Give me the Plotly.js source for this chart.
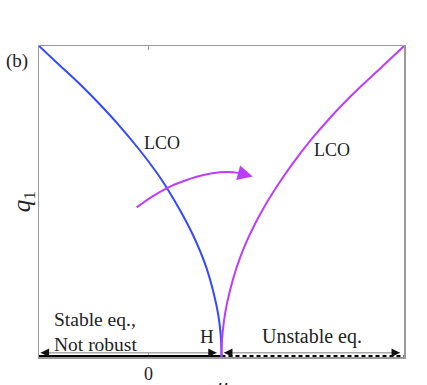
<!DOCTYPE html>
<html>
<head>
<meta charset="utf-8">
<script src="https://cdn.plot.ly/plotly-3.0.1.min.js"></script>
<style>
  html, body { margin: 0; padding: 0; background: #fff; }
  #chart { width: 427px; height: 385px; }
</style>
</head>
<body>
<div id="chart"></div>
<script>
// Bifurcation sketch: LCO branches around the Hopf point H (mu = 1)

// stable LCO branch (blue)
const blueMu = [-1.5, -1.226, -0.952, -0.678, -0.404, -0.13, 0.121, 0.226, 0.432, 0.614, 0.774, 0.888, 0.956, 0.989, 0.998, 1.0];
const blueQ  = [1.0, 0.94, 0.88, 0.815, 0.745, 0.668, 0.59, 0.553, 0.472, 0.39, 0.3, 0.21, 0.135, 0.072, 0.03, 0.0];

// unstable LCO branch (magenta)
const magMu = [1.0, 1.002, 1.016, 1.052, 1.112, 1.203, 1.318, 1.455, 1.637, 1.751, 1.962, 2.236, 2.51, 2.829, 3.148, 3.5];
const magQ  = [0.0, 0.03, 0.08, 0.144, 0.21, 0.285, 0.357, 0.426, 0.503, 0.546, 0.618, 0.701, 0.775, 0.852, 0.922, 1.0];

// curved arrow (magenta)
const arcMu = [-0.162, 0.066, 0.295, 0.523, 0.751, 0.979, 1.162, 1.299];
const arcQ  = [0.481, 0.518, 0.548, 0.569, 0.585, 0.594, 0.594, 0.588];
const arcTip = [1.427, 0.58];

// equilibrium line along q1 = 0
const eqStableMu   = [-1.5, 1.0];
const eqUnstableMu = [1.0, 3.5];

// range arrows above the axis
const arrowQ = 0.0138;
const leftArrowMu  = [-1.477, 0.934];
const rightArrowMu = [1.034, 3.445];

const xTicks = [0];
const xTickText = ['0'];

const blue = '#3349ff';
const magenta = '#bd3dff';
const serif = '"Liberation Serif", "DejaVu Serif", serif';
const ink = '#222';

const traces = [
  {x: eqStableMu, y: [0, 0], mode: 'lines', line: {color: '#000', width: 4}},
  {x: eqUnstableMu, y: [0, 0], mode: 'lines', line: {color: '#000', width: 4, dash: '4px,3px'}},
  {x: leftArrowMu, y: [arrowQ, arrowQ], mode: 'lines', line: {color: '#aaa', width: 1.5}},
  {x: rightArrowMu, y: [arrowQ, arrowQ], mode: 'lines', line: {color: '#aaa', width: 1.5}},
  {x: blueMu, y: blueQ, mode: 'lines', line: {color: blue, width: 2, shape: 'spline', smoothing: 1}},
  {x: magMu, y: magQ, mode: 'lines', line: {color: magenta, width: 2, shape: 'spline', smoothing: 1}},
  {x: arcMu, y: arcQ, mode: 'lines', line: {color: magenta, width: 2, shape: 'spline', smoothing: 1}}
];

function head(x, y, dx){
  return {x: x, y: y, xref: 'x', yref: 'y', ax: dx, ay: 0, text: '',
          showarrow: true, arrowhead: 2, arrowsize: 1.3, arrowwidth: 1.3, arrowcolor: '#111', standoff: 0};
}

function label(x, y, text, size){
  return {x: x, y: y, xref: 'x', yref: 'y', text: text, showarrow: false,
          font: {family: serif, size: size, color: ink}};
}

const annotations = [
  {x: (17 - 39) / 365, y: (357 - 61) / 311, xref: 'paper', yref: 'paper', text: '(b)', showarrow: false,
   xanchor: 'center', yanchor: 'middle', font: {family: serif, size: 19, color: ink}},
  // x-axis title sits partly below the bottom edge, as in the original figure
  {x: 0.5, y: (357 - 385) / 311, xref: 'paper', yref: 'paper', text: '<i>μ</i>', showarrow: false,
   xanchor: 'center', yanchor: 'middle', font: {family: serif, size: 22, color: ink}},
  label(0.185, 0.688, 'LCO', 18),
  label(2.514, 0.666, 'LCO', 18),
  label(0.801, 0.0675, 'H', 19),
  Object.assign(label(-1.322, 0.08, 'Stable eq.,<br>Not robust', 19.5), {xanchor: 'left', align: 'left'}),
  label(2.24, 0.0675, 'Unstable eq.', 20),
  {x: arcTip[0], y: arcTip[1], xref: 'x', yref: 'y', axref: 'x', ayref: 'y',
   ax: arcMu[arcMu.length - 1], ay: arcQ[arcQ.length - 1], text: '',
   showarrow: true, arrowhead: 2, arrowsize: 1.5, arrowwidth: 2, arrowcolor: magenta, standoff: 0},
  head(leftArrowMu[0], arrowQ, 9),
  head(leftArrowMu[1], arrowQ, -9),
  head(rightArrowMu[0], arrowQ, 9),
  head(rightArrowMu[1], arrowQ, -9)
];

const layout = {
  width: 427,
  height: 385,
  margin: {l: 39, r: 23, t: 46, b: 28},
  paper_bgcolor: '#fff',
  plot_bgcolor: '#fff',
  showlegend: false,
  xaxis: {
    range: [-1.5, 3.5],
    showgrid: false, zeroline: false,
    showline: true, mirror: 'ticks', linecolor: '#999', linewidth: 1.5,
    ticks: 'inside', ticklen: 4, tickcolor: '#999',
    tickvals: xTicks, ticktext: xTickText,
    tickfont: {family: serif, size: 18, color: ink},
    layer: 'below traces'
  },
  yaxis: {
    range: [0, 1],
    showgrid: false, zeroline: false,
    showline: true, mirror: true, linecolor: '#999', linewidth: 1.5,
    ticks: '', showticklabels: false,
    layer: 'below traces',
    title: {text: '<i>q</i><sub>1</sub>', font: {family: serif, size: 25, color: ink}, standoff: 0}
  },
  annotations: annotations
};

Plotly.newPlot('chart', traces, layout, {staticPlot: true});
</script>
</body>
</html>
